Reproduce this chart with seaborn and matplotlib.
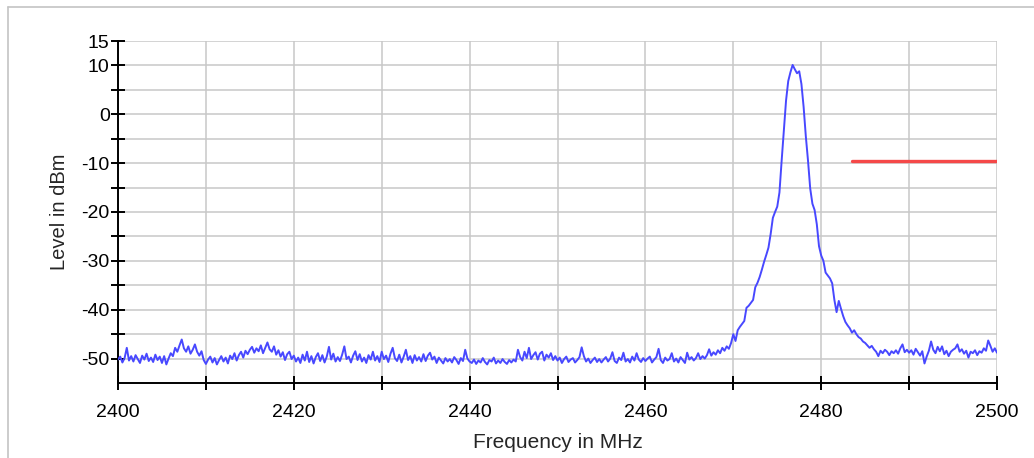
import numpy as np
import matplotlib
matplotlib.use("Agg")
import matplotlib.pyplot as plt
import seaborn as sns
from matplotlib.lines import Line2D
from matplotlib.ticker import MultipleLocator, FixedLocator

# Spectrum trace, 0.25 MHz steps from 2400 to 2500 MHz (values in dBm)
freq_start = 2400.0
freq_step = 0.25
level_dbm = [
    # 2400 - 2404.75
    -50.2, -49.6, -50.8, -49.9, -47.8, -50.4, -49.5, -50.6, -49.3, -50.1,
    -50.9, -49.4, -50.2, -49.0, -50.5, -49.8, -50.7, -49.2, -50.3, -49.6,
    # 2405 - 2409.75
    -50.9, -49.5, -51.2, -50.0, -48.9, -49.5, -47.8, -48.6, -47.3, -46.1,
    -47.9, -48.6, -47.5, -49.0, -48.2, -47.1, -48.6, -49.4, -48.5, -50.3,
    # 2410 - 2414.75
    -51.1, -50.2, -49.6, -50.8, -49.9, -51.2, -50.3, -49.5, -50.6, -49.8,
    -51.0, -49.4, -50.1, -48.9, -50.4, -49.3, -48.6, -49.8, -48.4, -49.1,
    # 2415 - 2419.75
    -48.2, -47.6, -48.8, -47.9, -48.5, -47.3, -48.9, -47.8, -46.7, -48.1,
    -48.6, -47.5, -49.2, -48.3, -49.6, -48.7, -50.3, -49.1, -48.6, -50.1,
    # 2420 - 2424.75
    -49.4, -50.6, -49.8, -50.9, -49.2, -50.4, -48.6, -50.7, -49.5, -51.0,
    -49.7, -48.9, -50.5, -49.3, -50.8, -49.6, -47.6, -50.2, -49.0, -50.6,
    # 2425 - 2429.75
    -49.7, -50.5, -49.2, -47.5, -50.1, -49.6, -50.8, -49.4, -48.5, -50.3,
    -49.1, -50.6, -49.8, -50.9, -49.3, -50.2, -48.6, -50.4, -49.5, -50.7,
    # 2430 - 2434.75
    -48.6, -50.1, -49.4, -50.7, -49.0, -47.8, -49.9, -50.5, -49.2, -50.8,
    -49.6, -48.2, -50.3, -49.5, -50.9, -49.3, -50.4, -49.7, -50.6, -49.1,
    # 2435 - 2439.75
    -50.5, -49.4, -48.8, -50.2, -49.6, -50.9, -49.8, -50.4, -51.0, -49.9,
    -50.6, -50.1, -50.8, -49.7, -50.3, -51.1, -49.9, -50.5, -48.2, -50.0,
    # 2440 - 2444.75
    -50.6, -50.9, -50.2, -51.1, -50.4, -50.8, -49.9, -50.7, -51.2, -50.3,
    -50.6, -49.8, -51.0, -50.4, -50.9, -50.1, -50.7, -51.1, -50.3, -50.8,
    # 2445 - 2449.75
    -50.2, -50.6, -48.2, -49.7, -50.4, -48.6, -49.9, -47.8, -50.1, -49.3,
    -48.7, -50.2, -49.0, -48.6, -50.4, -49.2, -49.8, -48.9, -50.3, -49.5,
    # 2450 - 2454.75
    -50.4, -49.8, -50.9, -50.1, -49.6, -50.7, -50.2, -49.9, -50.8, -50.3,
    -49.7, -47.7, -49.5, -50.6, -50.0, -50.9, -50.3, -49.8, -50.7, -50.1,
    # 2455 - 2459.75
    -50.8, -50.2, -49.7, -50.6, -50.0, -48.7, -50.5, -50.9, -49.8, -50.3,
    -48.8, -50.6, -50.1, -50.8, -49.6, -50.4, -48.9, -50.2, -50.7, -49.9,
    # 2460 - 2464.75
    -50.5, -50.0, -49.6, -50.8, -50.2, -49.7, -48.0, -50.3, -50.9, -49.8,
    -50.4, -50.1, -48.9, -50.6, -50.0, -50.8, -49.7, -50.3, -50.9, -48.8,
    # 2465 - 2469.75
    -50.2, -49.7, -50.4, -49.9, -48.9, -50.1, -49.5, -50.0, -49.3, -48.1,
    -49.4, -48.7, -49.2, -48.3, -48.9, -47.8, -48.4, -47.5, -48.0, -46.8,
    # 2470 - 2474.75
    -45.0, -46.4, -44.2, -43.5, -42.9, -42.3, -39.6, -39.2, -38.6, -38.0,
    -35.4, -34.5, -33.3, -31.8, -30.2, -28.8, -27.3, -24.5, -21.2, -20.0,
    # 2475 - 2479.75
    -18.9, -16.0, -9.5, -3.5, 2.8, 6.8, 8.6, 10.1, 9.2, 8.4,
    8.8, 6.2, 1.5, -4.5, -9.5, -15.2, -18.3, -19.6, -22.5, -27.0,
    # 2480 - 2484.75
    -28.9, -30.0, -32.4, -33.0, -33.6, -34.6, -38.0, -40.5, -38.2, -39.8,
    -41.3, -42.5, -43.2, -43.8, -44.7, -44.2, -45.0, -45.6, -45.9, -46.5,
    # 2485 - 2489.75
    -46.8, -47.3, -47.8, -47.4, -48.1, -48.6, -49.5, -48.4, -48.9, -48.2,
    -48.6, -49.3, -48.5, -48.9, -48.3, -49.0, -47.9, -47.1, -48.7, -48.2,
    # 2490 - 2494.75
    -48.8, -48.3, -49.2, -48.0, -48.7, -49.4, -48.5, -51.0, -49.6, -48.4,
    -46.5, -48.2, -48.9, -47.6, -48.5, -47.5, -49.1, -48.4, -49.5, -48.6,
    # 2495 - 2499.75
    -48.2, -47.9, -47.1, -48.6, -48.1, -49.0, -48.4, -49.8, -48.6, -48.9,
    -48.3, -49.3, -48.5, -48.8, -47.9, -48.4, -46.3, -47.4, -48.6, -47.9,
    # 2500
    -48.8,
]

# Limit line (red)
limit_freq = [2483.5, 2500.0]
limit_level = [-9.5, -9.5]

freq_mhz = freq_start + freq_step * np.arange(len(level_dbm))

sns.set_style("white")
plt.rcParams['font.family'] = ['Liberation Sans', 'DejaVu Sans']
plt.rcParams['axes.unicode_minus'] = False

fig = plt.figure(figsize=(10.34, 4.58), dpi=100)
ax = fig.add_axes([118 / 1034, 1 - 383 / 458, (997 - 118) / 1034, (383 - 41) / 458])

sns.lineplot(x=freq_mhz, y=level_dbm, ax=ax, color="#4848ff", linewidth=1.4,
             estimator=None, sort=False, zorder=3)
sns.lineplot(x=limit_freq, y=limit_level, ax=ax, color="#f54848", linewidth=2.4,
             estimator=None, sort=False, zorder=4, solid_capstyle="round")

ax.set_xlim(2400, 2500)
ax.set_ylim(-55, 15)

ax.xaxis.set_major_locator(MultipleLocator(20))
ax.xaxis.set_minor_locator(MultipleLocator(10))
ax.yaxis.set_major_locator(FixedLocator([-50, -40, -30, -20, -10, 0, 10, 15]))
ax.yaxis.set_minor_locator(FixedLocator([-45, -35, -25, -15, -5, 5]))

ax.grid(True, which="both", color="#c8c8c8", linewidth=1.1)
ax.set_axisbelow(True)

for side in ["top", "right"]:
    ax.spines[side].set_visible(False)
for side in ["left", "bottom"]:
    ax.spines[side].set_color("black")
    ax.spines[side].set_linewidth(1.4)

# seaborn "white" style switches the ticks off, bring them back
ax.tick_params(axis="both", which="both", bottom=True, left=True, direction="inout",
               length=10, width=1.4, color="black", labelsize=14, labelcolor="black")
ax.tick_params(axis="x", which="both", pad=10)
ax.tick_params(axis="y", which="both", pad=1)

ax.set_xlabel("Frequency in MHz", fontsize=15, labelpad=9)
ax.set_ylabel("Level in dBm", fontsize=14.5, labelpad=9)

# light frame of the surrounding panel
fig.add_artist(Line2D([8 / 1034, 1.0], [1 - 7 / 458, 1 - 7 / 458], transform=fig.transFigure,
                      color="#c4c4c4", linewidth=1.2))
fig.add_artist(Line2D([8 / 1034, 8 / 1034], [0.0, 1 - 7 / 458], transform=fig.transFigure,
                      color="#c4c4c4", linewidth=1.2))

plt.savefig("out.png", dpi=100)
plt.close()
